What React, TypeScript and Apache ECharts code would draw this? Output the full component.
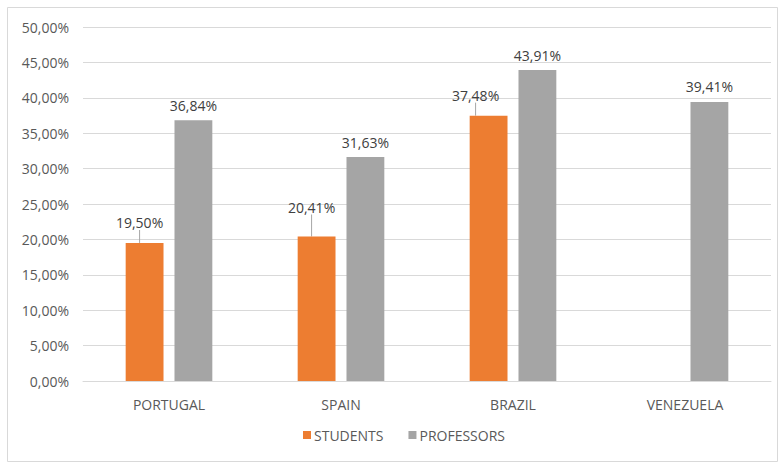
import React, { useEffect, useRef } from "react";
import * as echarts from "echarts";

const categories = ["PORTUGAL", "SPAIN", "BRAZIL", "VENEZUELA"];
const students: (number | null)[] = [19.5, 20.41, 37.48, null];
const professors: number[] = [36.84, 31.63, 43.91, 39.41];
const seriesNames = ["STUDENTS", "PROFESSORS"];

const fmt = (v: number) => v.toFixed(2).replace(".", ",") + "%";

// label displacements for the student labels (leader-line style)
const studentLabelShift = [
  { dx: -5, dy: -13 },
  { dx: -5, dy: -22 },
  { dx: -13, dy: -13 },
  { dx: 0, dy: 0 },
];

export default function App() {
  const ref = useRef<HTMLDivElement>(null);
  useEffect(() => {
    if (!ref.current) return;
    const chart = echarts.init(ref.current, undefined, { renderer: "svg" });
    const font = "'Open Sans', 'Liberation Sans', sans-serif";
    chart.setOption({
      animation: false,
      textStyle: { fontFamily: font },
      graphic: [
        {
          type: "rect",
          shape: { x: 7.5, y: 7.5, width: 770, height: 454 },
          style: { fill: "none", stroke: "#D9D9D9", lineWidth: 1 },
          silent: true,
        },
      ],
      grid: { left: 83, right: 8, top: 27, bottom: 82 },
      legend: {
        data: seriesNames,
        bottom: 16,
        left: 298,
        icon: "rect",
        itemWidth: 8,
        itemHeight: 8,
        itemGap: 25,
        textStyle: { color: "#595959", fontSize: 14, fontFamily: font, padding: [0, 0, 0, -2] },
      },
      xAxis: {
        type: "category",
        data: categories,
        axisTick: { show: false },
        axisLine: { lineStyle: { color: "#D9D9D9" } },
        axisLabel: { color: "#595959", fontSize: 14, margin: 16, fontFamily: font },
      },
      yAxis: {
        type: "value",
        min: 0,
        max: 50,
        interval: 5,
        axisLine: { show: false },
        axisTick: { show: false },
        splitLine: { lineStyle: { color: "#D9D9D9" } },
        axisLabel: {
          color: "#595959",
          fontSize: 14,
          margin: 14,
          fontFamily: font,
          formatter: (v: number) => fmt(v),
        },
      },
      series: [
        {
          name: seriesNames[0],
          type: "bar",
          data: students,
          barWidth: "22%",
          barGap: "29%",
          itemStyle: { color: "#ED7D31" },
          label: {
            show: true,
            position: "top",
            distance: 0,
            color: "#404040",
            fontSize: 14,
            fontFamily: font,
            formatter: (p: any) => fmt(p.value),
          },
          labelLine: { show: true, lineStyle: { color: "#A6A6A6", width: 1 } },
          labelLayout: (p: any) => studentLabelShift[p.dataIndex] || { dx: 0, dy: 0 },
        },
        {
          name: seriesNames[1],
          type: "bar",
          data: professors,
          barWidth: "22%",
          itemStyle: { color: "#A5A5A5" },
          label: {
            show: true,
            position: "top",
            distance: 8,
            color: "#404040",
            fontSize: 14,
            fontFamily: font,
            formatter: (p: any) => fmt(p.value),
          },
        },
      ],
    });
    return () => chart.dispose();
  }, []);
  return (
    <div
      ref={ref}
      style={{ position: "fixed", left: 0, top: 0, width: 779, height: 463, background: "#fff" }}
    />
  );
}
